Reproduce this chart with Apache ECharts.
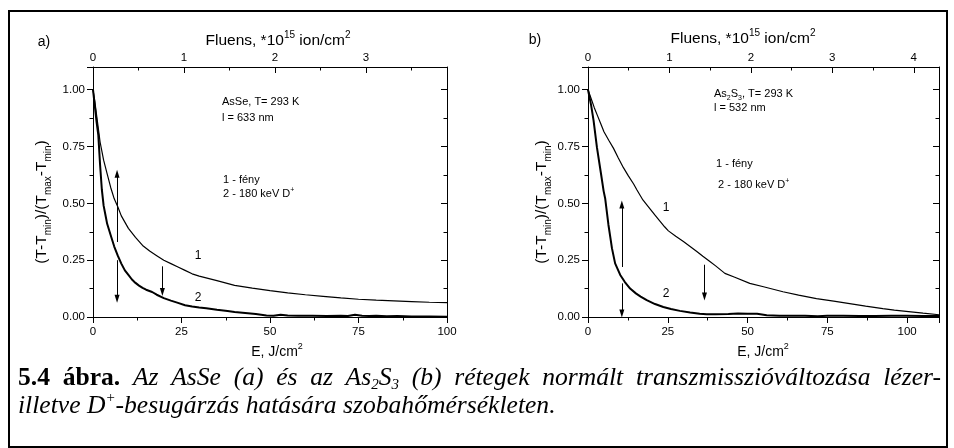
<!DOCTYPE html>
<html><head><meta charset="utf-8">
<script src="https://cdn.jsdelivr.net/npm/echarts@6/dist/echarts.min.js"></script>
<style>html,body{margin:0;padding:0;background:#fff}#c{width:954px;height:448px}</style>
</head><body><div id="c"></div>
<script>
// Panel a) AsSe
const aE1 = [0,0.5,1,1.5,2,3,4,5,6,7,8,10,12,14,16,18,20,22,24,26,28,30,35,40,45,50,55,60,65,70,75,80,85,90,95,100];
const aV1 = [1.0,0.95,0.89,0.83,0.77,0.69,0.63,0.57,0.52,0.485,0.445,0.39,0.35,0.315,0.29,0.27,0.25,0.235,0.22,0.205,0.19,0.18,0.16,0.139,0.127,0.116,0.106,0.098,0.091,0.084,0.078,0.074,0.071,0.068,0.065,0.063];
const aE2 = [0,0.5,1,1.5,2,2.5,3,3.5,4,5,6,7,8,9,10,11,12,13,14,15,16.7,18,20,22,24,26,28,30,32,35,38,40,43,46,49,51,53,55,58,62,66,70,72,74,76,78,80,83,86,90,95,100];
const aV2 = [1.0,0.93,0.86,0.8,0.67,0.56,0.49,0.45,0.41,0.36,0.31,0.27,0.235,0.205,0.185,0.165,0.15,0.138,0.128,0.12,0.11,0.098,0.083,0.072,0.062,0.052,0.046,0.042,0.039,0.032,0.026,0.022,0.018,0.013,0.007,0.006,0.01,0.007,0.005,0.005,0.004,0.006,0.004,0.01,0.006,0.004,0.006,0.003,0.004,0.002,0.002,0.001];
// Panel b) As2S3
const bE1 = [0,1,2,3,4,5,6.5,8,9.5,11.1,12.7,14.3,15.3,17.2,19.5,21,22.6,24,25.2,27.5,29.9,32,34.1,36,38.2,40,42.9,46,50.7,55,61.1,66,71.6,77,82,87,92.4,96,99.7,105,110];
const bV1 = [1.0,0.96,0.92,0.885,0.85,0.815,0.778,0.742,0.70,0.657,0.62,0.585,0.56,0.515,0.475,0.448,0.421,0.397,0.379,0.355,0.332,0.31,0.288,0.267,0.244,0.225,0.192,0.175,0.148,0.133,0.111,0.096,0.081,0.07,0.059,0.048,0.037,0.03,0.025,0.017,0.01];
const bE2 = [0,1,1.75,2.8,4.1,4.9,5.4,6.4,7,7.5,8.5,10.1,11.5,13.2,15,16.5,18.4,21,23.6,26,28.8,32,35,37.2,40,44,47,50,53,56,60,64,68,72,75,80,85,90,95,100,105,110];
const bV2 = [1.0,0.93,0.864,0.746,0.628,0.554,0.52,0.406,0.35,0.303,0.236,0.185,0.155,0.125,0.104,0.09,0.074,0.057,0.044,0.035,0.027,0.02,0.014,0.012,0.012,0.013,0.015,0.014,0.014,0.008,0.006,0.005,0.005,0.003,0.006,0.006,0.004,0.004,0.005,0.006,0.004,0.004];
// arrows [x, yStart, yEnd]
const aArrows = [[6.8,0.33,0.63],[6.8,0.25,0.08],[19.6,0.223,0.11]];
const bArrows = [[10.6,0.22,0.495],[10.6,0.148,0.015],[36.5,0.23,0.09]];
// tick settings
const eTicks = 25, fluTicks = 1, yTicks = 0.25;
const aEmax = 100, bEmax = 110, aFmax = 3.89, bFmax = 4.31, yMax = 1.1;

const pairs = (x, y) => x.map((v, i) => [v, y[i]]);
const SANS = 'Liberation Sans', SERIF = 'Liberation Serif';
const chart = echarts.init(document.getElementById('c'), null, {renderer: 'canvas'});

function xAx(grid, pos, max, interval, inside, showMax) {
  return {gridIndex: grid, type: 'value', position: pos, min: 0, max: max, interval: interval,
    axisLine: {onZero: false, lineStyle: {color: '#000', width: 1}},
    axisTick: {inside: inside, length: 6, lineStyle: {color: '#000', width: 1}},
    minorTick: {show: true, splitNumber: 2, length: 3.5, lineStyle: {color: '#000', width: 1}},
    splitLine: {show: false},
    axisLabel: {show: true, showMaxLabel: showMax, margin: inside ? 3 : 9, color: '#000', fontSize: 11.5, fontFamily: SANS}};
}
function yAx(grid, pos, showLabel) {
  return {gridIndex: grid, type: 'value', position: pos, min: 0, max: yMax, interval: yTicks,
    axisLine: {onZero: false, lineStyle: {color: '#000', width: 1}},
    axisTick: {inside: !showLabel, length: 6, lineStyle: {color: '#000', width: 1}},
    minorTick: {show: true, splitNumber: 2, length: 3.5, lineStyle: {color: '#000', width: 1}},
    splitLine: {show: false},
    axisLabel: {show: showLabel, showMaxLabel: false, margin: 8, color: '#000', fontSize: 11.5, fontFamily: SANS, formatter: v => v.toFixed(2)}};
}
function curve(xi, yi, data, w, arrows) {
  const s = {type: 'line', xAxisIndex: xi, yAxisIndex: yi, data: data, showSymbol: false, symbol: 'none',
    lineStyle: {color: '#000', width: w}, silent: true, animation: false, clip: true};
  if (arrows) {
    s.markLine = {silent: true, symbol: ['none', 'triangle'], symbolSize: [5, 8], animation: false,
      label: {show: false}, lineStyle: {color: '#000', width: 1, type: 'solid'},
      data: arrows.map(a => [{coord: [a[0], a[1]]}, {coord: [a[0], a[2]]}])};
  }
  return s;
}
const sty = (fs, extra) => Object.assign({fontSize: fs, fontFamily: SANS, fill: '#000'}, extra || {});
const rich15 = {
  n: {fontSize: 15.5, fontFamily: SANS, lineHeight: 22, verticalAlign: 'middle'},
  sup: {fontSize: 10, fontFamily: SANS, lineHeight: 10, verticalAlign: 'top'},
  sub: {fontSize: 10, fontFamily: SANS, lineHeight: 10, verticalAlign: 'bottom'}
};
const rich14 = {
  n: {fontSize: 14, fontFamily: SANS, lineHeight: 20, verticalAlign: 'middle'},
  sup: {fontSize: 9, fontFamily: SANS, lineHeight: 9, verticalAlign: 'top'},
  sub: {fontSize: 9, fontFamily: SANS, lineHeight: 9, verticalAlign: 'bottom'}
};
const rich11 = {
  n: {fontSize: 11, fontFamily: SANS, lineHeight: 15, verticalAlign: 'middle'},
  sup: {fontSize: 7, fontFamily: SANS, lineHeight: 7, verticalAlign: 'top'},
  sub: {fontSize: 7, fontFamily: SANS, lineHeight: 7, verticalAlign: 'bottom'}
};
function rt(x, y, text, rich, align, rot) {
  return {type: 'text', x: x, y: y, rotation: rot || 0, silent: true,
    style: {text: text, rich: rich, fill: '#000', align: align || 'center', verticalAlign: 'middle'}};
}
function pt(x, y, text, fs, align) {
  return {type: 'text', x: x, y: y, silent: true,
    style: sty(fs, {text: text, align: align || 'center', verticalAlign: 'middle'})};
}
const fluens = '{n|Fluens, *10}{sup|15}{n| ion/cm}{sup|2}';
const eTitle = '{n|E, J/cm}{sup|2}';
const yTitle = '{n|(T-T}{sub|min}{n|)/(T}{sub|max}{n|-T}{sub|min}{n|)}';

// caption
const CAP = 25.6, CAPSUB = 15;
const capRich = {
  b: {fontSize: CAP, fontFamily: SERIF, fontWeight: 'bold', lineHeight: 30},
  i: {fontSize: CAP, fontFamily: SERIF, fontStyle: 'italic', lineHeight: 30},
  isub: {fontSize: CAPSUB, fontFamily: SERIF, fontStyle: 'italic', lineHeight: 15, verticalAlign: 'bottom'},
  isup: {fontSize: CAPSUB, fontFamily: SERIF, fontStyle: 'italic', lineHeight: 15, verticalAlign: 'top'}
};
const fontOf = {
  b: 'bold ' + CAP + 'px "' + SERIF + '"', i: 'italic ' + CAP + 'px "' + SERIF + '"',
  isub: 'italic ' + CAPSUB + 'px "' + SERIF + '"', isup: 'italic ' + CAPSUB + 'px "' + SERIF + '"'
};
const line1Words = [
  [['b', '5.4']], [['b', 'ábra.']], [['i', 'Az']], [['i', 'AsSe']], [['i', '(a)']], [['i', 'és']], [['i', 'az']],
  [['i', 'As'], ['isub', '2'], ['i', 'S'], ['isub', '3']], [['i', '(b)']], [['i', 'rétegek']], [['i', 'normált']],
  [['i', 'transzmisszióváltozása']], [['i', 'lézer-']]
];
const ctx = document.createElement('canvas').getContext('2d');
function wordWidth(w) { return w.reduce((s, p) => { ctx.font = fontOf[p[0]]; return s + ctx.measureText(p[1]).width; }, 0); }
const capLeft = 18, capRight = 941;
const widths = line1Words.map(wordWidth);
const total = widths.reduce((a, b) => a + b, 0);
const gap = (capRight - capLeft - total) / (line1Words.length - 1);
const capGraphics = [];
let cx = capLeft;
line1Words.forEach((w, k) => {
  capGraphics.push(rt(cx, 378, w.map(p => '{' + p[0] + '|' + p[1] + '}').join(''), capRich, 'left'));
  cx += widths[k] + gap;
});
capGraphics.push(rt(capLeft, 406, '{i|illetve D}{isup|+}{i|-besugárzás hatására szobahőmérsékleten.}', capRich, 'left'));

chart.setOption({
  animation: false,
  grid: [{left: 93, top: 67, width: 354, height: 250}, {left: 588, top: 67, width: 351, height: 250}],
  xAxis: [
    xAx(0, 'bottom', aEmax, eTicks, false, true),
    xAx(0, 'top', aFmax, fluTicks, true, false),
    xAx(1, 'bottom', bEmax, eTicks, false, false),
    xAx(1, 'top', bFmax, fluTicks, true, false)
  ],
  yAxis: [yAx(0, 'left', true), yAx(0, 'right', false), yAx(1, 'left', true), yAx(1, 'right', false)],
  series: [
    curve(0, 0, pairs(aE1, aV1), 1.2, aArrows),
    curve(0, 0, pairs(aE2, aV2), 2),
    curve(2, 2, pairs(bE1, bV1), 1.2, bArrows),
    curve(2, 2, pairs(bE2, bV2), 2)
  ],
  graphic: [
    {type: 'rect', shape: {x: 9, y: 11, width: 938, height: 436}, style: {fill: 'none', stroke: '#000', lineWidth: 2}, silent: true},
    pt(44, 42, 'a)', 14), pt(535, 40, 'b)', 14),
    rt(278, 41, fluens, rich15), rt(743, 39, fluens, rich15),
    rt(277, 352, eTitle, rich14), rt(763, 352, eTitle, rich14),
    rt(42, 202, yTitle, rich15, 'center', Math.PI / 2), rt(542, 202, yTitle, rich15, 'center', Math.PI / 2),
    pt(222, 102, 'AsSe, T= 293 K', 11, 'left'), pt(222, 118, 'l = 633 nm', 11, 'left'),
    pt(223, 180, '1 - fény', 11, 'left'),
    rt(223, 194, '{n|2 - 180 keV D}{sup|+}', rich11, 'left'),
    pt(198, 256, '1', 12), pt(198, 298, '2', 12),
    rt(714, 94, '{n|As}{sub|2}{n|S}{sub|3}{n|, T= 293 K}', rich11, 'left'), pt(714, 108, 'l = 532 nm', 11, 'left'),
    pt(716, 164, '1 - fény', 11, 'left'),
    rt(718, 185, '{n|2 - 180 keV D}{sup|+}', rich11, 'left'),
    pt(666, 208, '1', 12), pt(666, 294, '2', 12)
  ].concat(capGraphics)
});
</script></body></html>
